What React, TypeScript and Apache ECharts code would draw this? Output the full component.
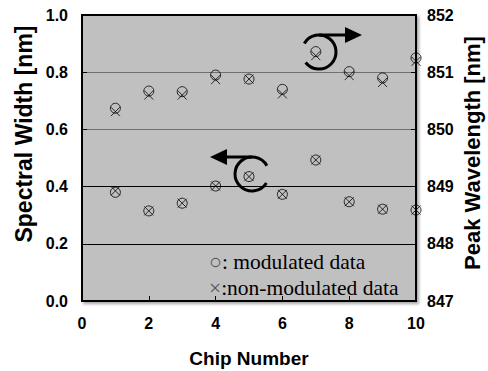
import React, { useEffect, useRef } from "react";
import * as echarts from "echarts";

// Chip numbers
const chips = [1, 2, 3, 4, 5, 6, 7, 8, 9, 10];
// Peak wavelength [nm] (right axis)
const peakModulated = [850.37, 850.67, 850.66, 850.95, 850.88, 850.7, 851.36, 851.01, 850.9, 851.25];
const peakNonModulated = [850.31, 850.6, 850.6, 850.87, 850.88, 850.62, 851.29, 850.94, 850.82, 851.19];
// Spectral width [nm] (left axis)
const widthModulated = [0.38, 0.315, 0.342, 0.402, 0.435, 0.373, 0.493, 0.347, 0.321, 0.318];
const widthNonModulated = [0.385, 0.315, 0.342, 0.402, 0.435, 0.373, 0.493, 0.347, 0.321, 0.318];
// Axis ranges
const xTicks = { min: 0, max: 10, interval: 2 };
const leftTicks = { min: 0, max: 1, interval: 0.2 };
const rightTicks = { min: 847, max: 852, interval: 1 };

const SANS = "Liberation Sans";
const SERIF_FONT = '21.5px "Liberation Serif"';

const pairs = (ys: number[]) => chips.map((c, i) => [c, ys[i]]);

export default function App() {
  const ref = useRef<HTMLDivElement>(null);
  useEffect(() => {
    const chart = echarts.init(ref.current!, null, { renderer: "svg" });
    const crossPath = "path://M0,0L10,10M10,0L0,10";
    const markStyle = { color: "transparent", borderColor: "#000", borderWidth: 1 };
    const labelStyle = { color: "#000", fontFamily: SANS, fontWeight: "bold" as const, fontSize: 16 };
    const titleText = (text: string, size: number) => ({
      text,
      font: `bold ${size}px "${SANS}"`,
      fill: "#000",
      textAlign: "center",
      textVerticalAlign: "middle",
    });
    const legendText = (text: string) => ({
      text,
      font: SERIF_FONT,
      fill: "#000",
      textAlign: "left",
      textVerticalAlign: "middle",
      rich: {
        s: { font: SERIF_FONT, fill: "#555" },
        t: { font: SERIF_FONT, fill: "#000" },
      },
    });
    chart.setOption({
      animation: false,
      backgroundColor: "#fff",
      grid: {
        left: 82,
        right: 72,
        top: 15,
        bottom: 70,
        show: true,
        backgroundColor: "#c0c0c0",
        borderColor: "#000",
        borderWidth: 2,
        shadowColor: "rgba(0,0,0,0.35)",
        shadowBlur: 3,
        shadowOffsetX: 2,
        shadowOffsetY: 2,
      },
      xAxis: {
        type: "value",
        ...xTicks,
        axisLine: { show: true, lineStyle: { color: "#000", width: 2 } },
        axisTick: { show: true, inside: true, length: 5, lineStyle: { color: "#000", width: 1 } },
        axisLabel: { ...labelStyle, margin: 14 },
        splitLine: { show: false },
      },
      yAxis: [
        {
          type: "value",
          position: "left",
          ...leftTicks,
          axisLine: { show: true, lineStyle: { color: "#000", width: 2 } },
          axisTick: { show: true, inside: true, length: 5, lineStyle: { color: "#000", width: 1 } },
          axisLabel: { ...labelStyle, margin: 14, formatter: (v: number) => v.toFixed(1) },
          splitLine: {
            show: true,
            lineStyle: { color: ["#000", "#000", "#000", "#707070", "#707070", "#000"], width: 1 },
          },
        },
        {
          type: "value",
          position: "right",
          ...rightTicks,
          axisLine: { show: true, lineStyle: { color: "#000", width: 2 } },
          axisTick: { show: true, inside: true, length: 5, lineStyle: { color: "#000", width: 1 } },
          axisLabel: { ...labelStyle, margin: 11 },
          splitLine: { show: false },
        },
      ],
      series: [
        { type: "scatter", yAxisIndex: 1, symbol: "circle", symbolSize: 10, itemStyle: markStyle, clip: false, data: pairs(peakModulated) },
        { type: "scatter", yAxisIndex: 1, symbol: crossPath, symbolSize: 9, itemStyle: markStyle, clip: false, data: pairs(peakNonModulated) },
        { type: "scatter", yAxisIndex: 0, symbol: "circle", symbolSize: 10, itemStyle: markStyle, clip: false, data: pairs(widthModulated) },
        { type: "scatter", yAxisIndex: 0, symbol: crossPath, symbolSize: 9, itemStyle: markStyle, clip: false, data: pairs(widthNonModulated) },
      ],
      graphic: [
        { type: "text", x: 24, y: 134, rotation: Math.PI / 2, style: titleText("Spectral Width [nm]", 23) },
        { type: "text", x: 472, y: 153, rotation: Math.PI / 2, style: titleText("Peak Wavelength [nm]", 22) },
        { type: "text", x: 249, y: 358, style: titleText("Chip Number", 19) },
        { type: "text", x: 209, y: 262, style: legendText("{s|○}{t|: modulated data}") },
        { type: "text", x: 209, y: 288, style: legendText("{s|×}{t|:non-modulated data}") },
        // upper annotation: curl + arrow to the right
        {
          type: "arc",
          shape: { cx: 319, cy: 52, r: 17, startAngle: (-150 * Math.PI) / 180, endAngle: (142 * Math.PI) / 180, clockwise: true },
          style: { stroke: "#000", lineWidth: 3, fill: "none" },
        },
        { type: "line", shape: { x1: 319, y1: 35, x2: 347, y2: 35 }, style: { stroke: "#000", lineWidth: 3 } },
        { type: "polygon", shape: { points: [[345, 27], [362, 35], [345, 43]] }, style: { fill: "#000" } },
        // lower annotation: curl + arrow to the left
        {
          type: "arc",
          shape: { cx: 252, cy: 174, r: 17, startAngle: (32 * Math.PI) / 180, endAngle: (331 * Math.PI) / 180, clockwise: true },
          style: { stroke: "#000", lineWidth: 3, fill: "none" },
        },
        { type: "line", shape: { x1: 252, y1: 157, x2: 224, y2: 157 }, style: { stroke: "#000", lineWidth: 3 } },
        { type: "polygon", shape: { points: [[227, 149], [210, 157], [227, 165]] }, style: { fill: "#000" } },
      ],
    });
    return () => chart.dispose();
  }, []);
  return <div ref={ref} style={{ position: "absolute", left: 0, top: 0, width: 488, height: 371 }} />;
}
